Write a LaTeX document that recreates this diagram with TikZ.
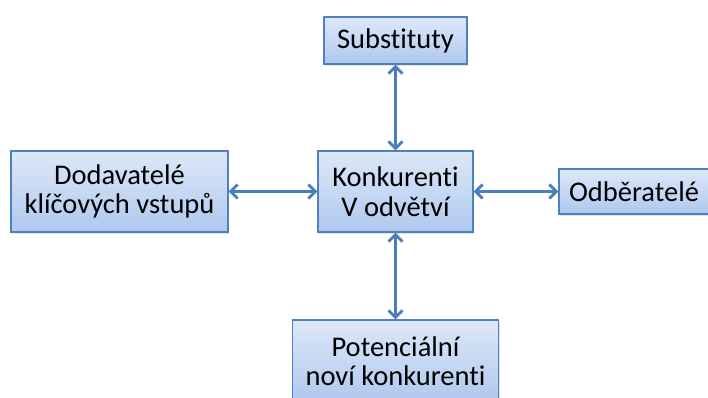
\documentclass[tikz,border=0pt]{standalone}
\usepackage{fontspec}
\setmainfont[Ligatures=NoCommon]{Carlito}
\usetikzlibrary{arrows.meta,shadows}
\definecolor{boxedge}{HTML}{4F81BD}
\definecolor{boxtop}{HTML}{DDE8F9}
\definecolor{boxbot}{HTML}{AFC8EE}
\definecolor{link}{HTML}{4A7EBB}
\tikzset{
  force/.style={draw=boxedge, line width=1.2pt, top color=boxtop, bottom color=boxbot,
    drop shadow={shadow xshift=1.2pt, shadow yshift=-2pt, opacity=0.22},
    align=center, inner sep=0pt, text=black,
    font=\fontsize{28.5}{29.5}\selectfont},
  rel/.style={draw=link, line width=2.8pt,
    {Straight Barb[length=7pt,width=14pt]}-{Straight Barb[length=7pt,width=14pt]}}
}
\begin{document}
\begin{tikzpicture}[x=1pt,y=-1pt]
  \useasboundingbox (0,0) rectangle (708,398);
  \fill[white] (0,0) rectangle (708,398);
  \node[force, minimum width=143pt, minimum height=47pt] (sub) at (395.5,40.5) {Substituty};
  \node[force, minimum width=155pt, minimum height=81pt] (kon) at (395.5,191.5) {Konkurenti\\V odvětví};
  \node[force, minimum width=217pt, minimum height=81pt] (dod) at (119.5,191.5) {Dodavatelé\\klíčových vstupů};
  \node[force, minimum width=150pt, minimum height=45pt] (odb) at (634,191.5) {Odběratelé};
  \node[force, minimum width=206pt, minimum height=82pt] (pot) at (395.5,361) {Potenciální\\noví konkurenti};
  \draw[rel] (sub.south) -- (kon.north);
  \draw[rel] (kon.south) -- (pot.north);
  \draw[rel] (dod.east) -- (kon.west);
  \draw[rel] (kon.east) -- (odb.west);
\end{tikzpicture}
\end{document}
